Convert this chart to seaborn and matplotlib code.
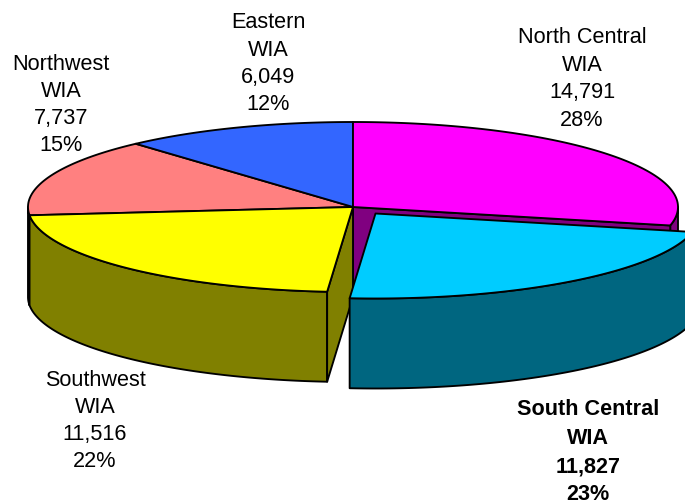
import numpy as np
import matplotlib
matplotlib.use("Agg")
import matplotlib.pyplot as plt
from matplotlib.patches import Polygon
import seaborn as sns

regions = ["North Central", "South Central", "Southwest", "Northwest", "Eastern"]
values = [14791, 11827, 11516, 7737, 6049]
percents = ["28%", "23%", "22%", "15%", "12%"]
top_colors = ["#FF00FF", "#00CCFF", "#FFFF00", "#FF8080", "#3366FF"]
side_colors = ["#800080", "#006680", "#808000", "#804040", "#1A3380"]

sns.set_theme(style="white")
plt.rcParams["font.family"] = ["Liberation Sans", "DejaVu Sans"]

CX, CY, A, B, DEPTH = 353.0, 207.0, 325.0, 85.0, 90.0
EXPLODE = (22.5, 6.5)
LW = 1.35

fig, ax = plt.subplots(figsize=(6.85, 5.04), dpi=100)
fig.subplots_adjust(0, 0, 1, 1)
ax.set_xlim(0, 685)
ax.set_ylim(504, 0)
ax.axis("off")

edges = np.concatenate([[0], np.cumsum(values)]) / np.sum(values) * 360.0


def rim(t0, t1, cx=CX, cy=CY, dz=0.0):
    t = np.radians(np.linspace(t0, t1, max(int(abs(t1 - t0)) * 2, 2)))
    return np.column_stack([cx + A * np.sin(t), cy - B * np.cos(t) + dz])


def poly(pts, color, z):
    ax.add_patch(Polygon(pts, closed=True, facecolor=color, edgecolor="black",
                         linewidth=LW, joinstyle="round", zorder=z))


def draw_wedge(i, cx, cy, z):
    t0, t1 = edges[i], edges[i + 1]
    col_side, col_top = side_colors[i], top_colors[i]
    # outer wall: visible only on the front half of the ellipse
    v0, v1 = max(t0, 90.0), min(t1, 270.0)
    if v1 > v0:
        r = rim(v0, v1, cx, cy)
        poly(np.vstack([r, r[::-1] + [0, DEPTH]]), col_side, z)
    # cut faces: a face shows only when it looks toward the viewer
    for t, visible in ((t0, t0 > 180), (t1, t1 < 180)):
        if visible:
            p = rim(t, t, cx, cy)[0]
            poly([(cx, cy), p, p + [0, DEPTH], (cx, cy + DEPTH)], col_side, z)
    # top
    poly(np.vstack([[(cx, cy)], rim(t0, t1, cx, cy)]), col_top, z + 1)


draw_wedge(3, CX, CY, 1)
draw_wedge(4, CX, CY, 1)
draw_wedge(0, CX, CY, 3)
draw_wedge(2, CX, CY, 5)
draw_wedge(1, CX + EXPLODE[0], CY + EXPLODE[1], 8)

# region labels: (centre x, first line centre y, line pitch)
label_pos = [(582, 37.5, 27.7), (588, 409.5, 28.5), (95, 381, 26.7), (61, 64.5, 27.0), (268, 23, 27.0)]
for i, (x, y, pitch) in enumerate(label_pos):
    lines = [regions[i], "WIA", f"{values[i]:,}", percents[i]]
    for k, s in enumerate(lines):
        ax.text(x, y + k * pitch, s, ha="center", va="center", fontsize=15.6, color="black",
                fontweight="bold" if regions[i] == "South Central" else "normal", zorder=20)

fig.savefig("out.png", dpi=100)
